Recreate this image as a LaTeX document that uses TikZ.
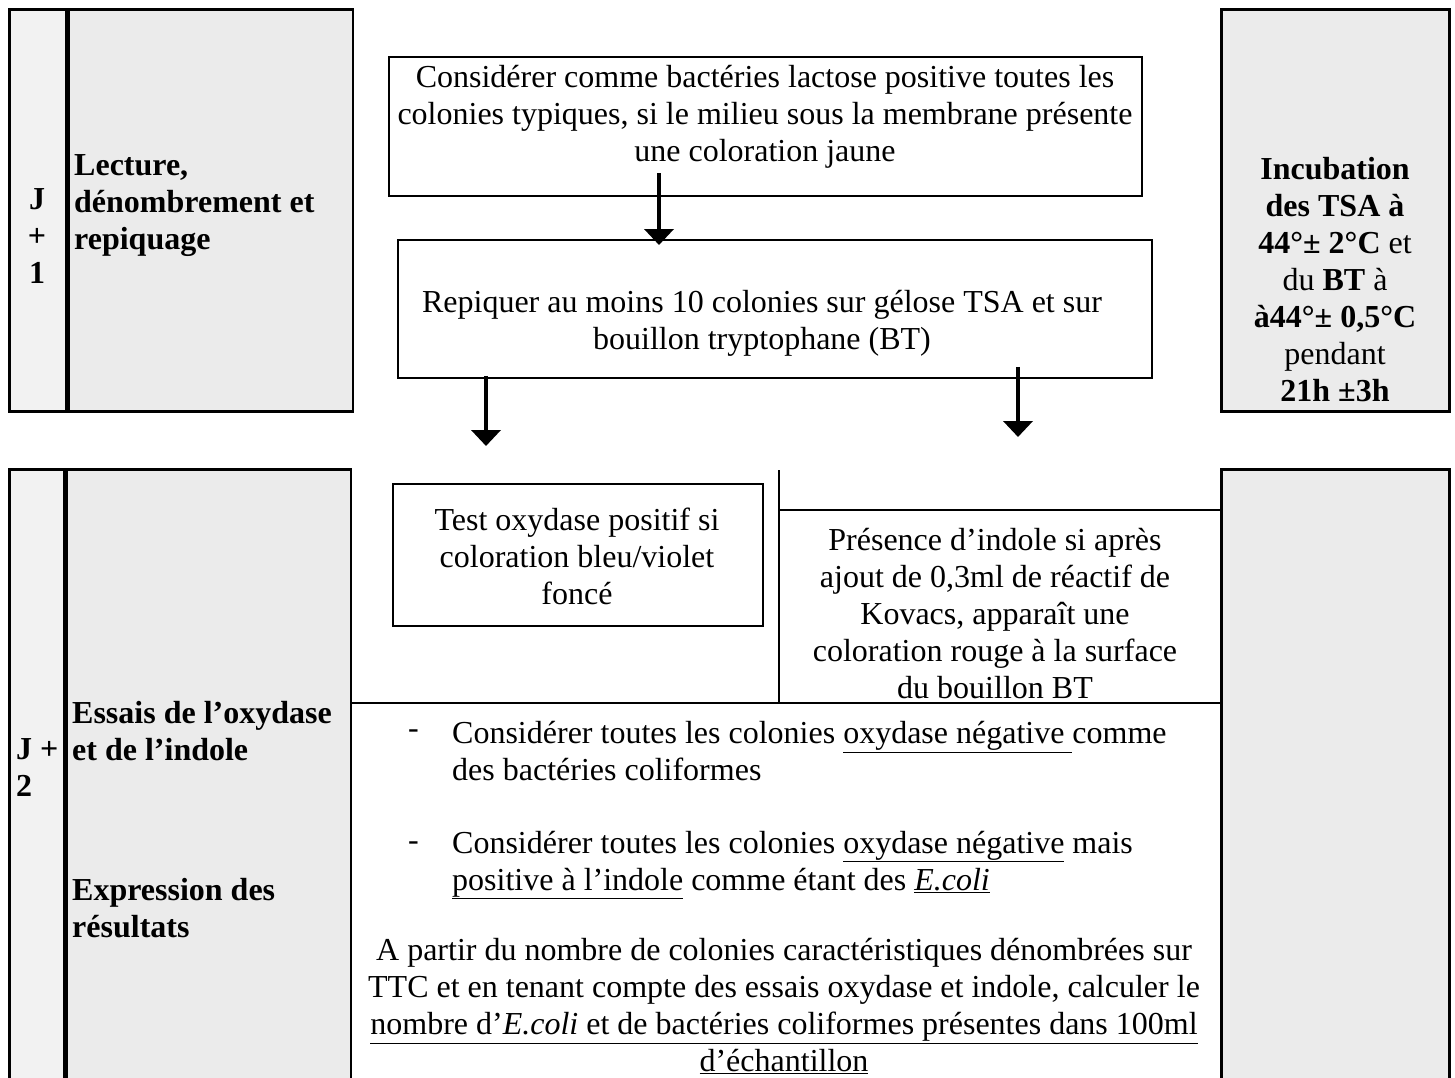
\documentclass[tikz,border=0pt]{standalone}
\usepackage{fontspec}
\setmainfont{Liberation Serif}
\usetikzlibrary{positioning,arrows.meta}
\definecolor{daygray}{HTML}{F2F2F2}
\definecolor{panelgray}{HTML}{EBEBEB}
\tikzset{
  panel/.style={draw, line width=2.5pt, fill=panelgray, anchor=north west, inner sep=0pt},
  daycell/.style={panel, fill=daygray},
  stepbox/.style={draw, line width=1.8pt, anchor=north west, inner sep=0pt},
  txt/.style={font=\fontsize{32}{37}\selectfont, align=center, inner sep=0pt},
  bold/.style={txt, font=\fontsize{32}{37}\selectfont\bfseries},
  flow/.style={line width=4pt, -{Triangle[width=29pt,length=16pt]}},
  sepline/.style={line width=2pt},
}

\begin{document}
\begin{tikzpicture}[x=1pt,y=-1pt]
\useasboundingbox (0,0) rectangle (1455,1077);
\clip (0,0) rectangle (1455,1077);

% J+1 : lecture
\node[daycell, minimum width=57pt, minimum height=402pt] (j1day) at (8,8) {};
\node[panel, minimum width=284pt, minimum height=402pt, right=0pt of j1day] (j1task) {};
\node[panel, minimum width=228pt, minimum height=402pt] (j1inc) at (1220,8) {};
\node[bold] (j1lbl) at (37,236) {J\\+\\1};
\node[bold, align=left, anchor=west] (j1head) at (74,206) {Lecture,\\dénombrement et\\repiquage};
\node[txt] (j1note) at (1335,280) {\textbf{Incubation}\\\textbf{des TSA à}\\\textbf{44°± 2°C} et\\du \textbf{BT} à\\\textbf{à44°± 0,5°C}\\pendant\\\textbf{21h ±3h}};

\node[stepbox, minimum width=753pt, minimum height=139pt] (lactose) at (388,56) {};
\node[txt] (lactosetxt) at (765,117) {Considérer comme bactéries lactose positive toutes les\\colonies typiques, si le milieu sous la membrane présente\\une coloration jaune};
\node[stepbox, minimum width=754pt, minimum height=138pt] (repiq) at (397,239) {};
\node[txt] (repiqtxt) at (762,323) {Repiquer au moins 10 colonies sur gélose TSA et sur\\bouillon tryptophane (BT)};

% arrows
\coordinate (a1) at (659,173);
\coordinate (toxy) at (486,446);
\coordinate (tind) at (1018,437);
\draw[flow] (a1) -- ([yshift=-6pt]repiq.north -| a1);
\draw[flow] ([yshift=3pt]repiq.south -| toxy) -- (toxy);
\draw[flow] ([yshift=12pt]repiq.south -| tind) -- (tind);

% J+2 : essais
\node[daycell, minimum width=55pt, minimum height=640pt] (j2day) at (8,468) {};
\node[panel, minimum width=284pt, minimum height=640pt, right=0pt of j2day] (j2task) {};
\node[panel, minimum width=228pt, minimum height=640pt] (j2blank) at (1220,468) {};
\node[bold, align=left, anchor=west] (j2lbl) at (16,768) {J +\\2};
\node[bold, align=left, anchor=west] (j2head) at (72,731) {Essais de l’oxydase\\et de l’indole};
\node[bold, align=left, anchor=west] (j2res) at (72,908) {Expression des\\résultats};

\node[stepbox, minimum width=370pt, minimum height=142pt] (oxy) at (392,483) {};
\node[txt] (oxytxt) at (577,556) {Test oxydase positif si\\coloration bleu/violet\\foncé};

\coordinate (sep) at (779,470);
\coordinate (indtop) at (779,510);
\coordinate (mid) at (350,703);
\draw[sepline] (sep) -- (sep |- mid);
\draw[sepline] (indtop) -- (indtop -| j2blank.west);
\draw[sepline] (j2task.east |- mid) -- (j2blank.west |- mid);
\node[txt] (indtxt) at (995,614) {Présence d’indole si après\\ajout de 0,3ml de réactif de\\Kovacs, apparaît une\\coloration rouge à la surface\\du bouillon BT};

% resultats
\node[txt, anchor=west] (dash1) at (408,734) {-};
\node[txt, align=left, anchor=west] (cond1) at (452,751) {Considérer toutes les colonies \underline{oxydase négative\ }comme\\des bactéries coliformes};
\node[txt, anchor=west] (dash2) at (408,846) {-};
\node[txt, align=left, anchor=west] (cond2) at (452,865) {Considérer toutes les colonies \underline{oxydase négative} mais\\\underline{positive à l’indole} comme étant des \underline{\textit{E.coli}}};
\node[txt] (calc) at (784,1006) {A partir du nombre de colonies caractéristiques dénombrées sur\\TTC et en tenant compte des essais oxydase et indole, calculer le\\\underline{nombre d’\textit{E.coli} et de bactéries coliformes présentes dans 100ml}\\\underline{d’échantillon}};
\end{tikzpicture}
\end{document}
